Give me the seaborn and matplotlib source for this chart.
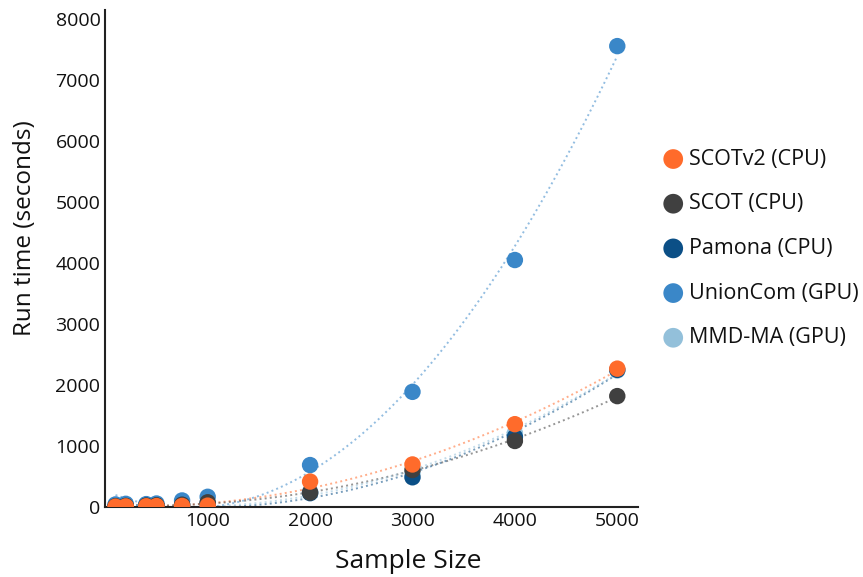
import pandas as pd
import matplotlib.pyplot as plt
import seaborn as sns

sizes = [100, 200, 400, 500, 750, 1000, 2000, 3000, 4000, 5000]

methods = ["SCOTv2 (CPU)", "SCOT (CPU)", "Pamona (CPU)", "UnionCom (GPU)", "MMD-MA (GPU)"]
colors = ["#FF6B2B", "#404040", "#0B4F86", "#3A87C8", "#93C0DA"]

scotv2 = [8, 12, 15, 18, 20, 25, 420, 700, 1360, 2270]
scot = [15, 20, 25, 30, 40, 80, 240, 610, 1085, 1820]
pamona = [12, 18, 22, 25, 35, 60, 230, 490, 1150, 2250]
unioncom = [45, 55, 50, 60, 110, 170, 690, 1890, 4050, 7555]
mmdma = [10, 15, 20, 25, 30, 50, 250, 560, 1215, 2240]

runtimes = [scotv2, scot, pamona, unioncom, mmdma]

rows = []
for m, vals in zip(methods, runtimes):
    for s, v in zip(sizes, vals):
        rows.append({"size": s, "time": v, "method": m})
df = pd.DataFrame(rows)

sns.set_style("white")
plt.rcParams["font.family"] = ["Open Sans", "DejaVu Sans"]

fig = plt.figure(figsize=(8.63, 5.77), dpi=100)
ax = fig.add_axes([0.122, 0.121, 0.617, 0.862])

# dotted polynomial trend for each method
for m, c in zip(methods, colors):
    sub = df[df["method"] == m]
    sns.regplot(data=sub, x="size", y="time", order=2, ci=None, scatter=False,
                color=c, ax=ax,
                line_kws={"linestyle": ":", "linewidth": 1.4, "alpha": 0.55})

# draw points so SCOTv2 ends up on top
for m, c in list(zip(methods, colors))[::-1]:
    sub = df[df["method"] == m]
    sns.scatterplot(data=sub, x="size", y="time", color=c, s=140,
                    edgecolor="none", ax=ax, label=m, zorder=3)

handles, labels = ax.get_legend_handles_labels()
order = [labels.index(m) for m in methods]
ax.legend([handles[i] for i in order], [labels[i] for i in order],
          loc="center left", bbox_to_anchor=(1.01, 0.52), frameon=False,
          fontsize=15.5, labelspacing=1.1, handletextpad=0.25, handlelength=1.0,
          markerscale=1.2, labelcolor="#111111")

ax.set_xlim(0, 5200)
ax.set_ylim(0, 8150)
ax.set_xticks([1000, 2000, 3000, 4000, 5000])
ax.set_yticks(range(0, 8001, 1000))
ax.tick_params(axis="both", labelsize=14, length=0, labelcolor="#111111")
ax.set_xlabel("Sample Size", fontsize=19, color="#111111")
ax.set_ylabel("Run time (seconds)", fontsize=17.5, color="#111111")
ax.xaxis.set_label_coords(0.569, -0.085)
ax.yaxis.set_label_coords(-0.129, 0.561)
for side in ["top", "right"]:
    ax.spines[side].set_visible(False)
for side in ["left", "bottom"]:
    ax.spines[side].set_color("#222222")
    ax.spines[side].set_linewidth(1.5)

fig.savefig("out.png", dpi=100)
